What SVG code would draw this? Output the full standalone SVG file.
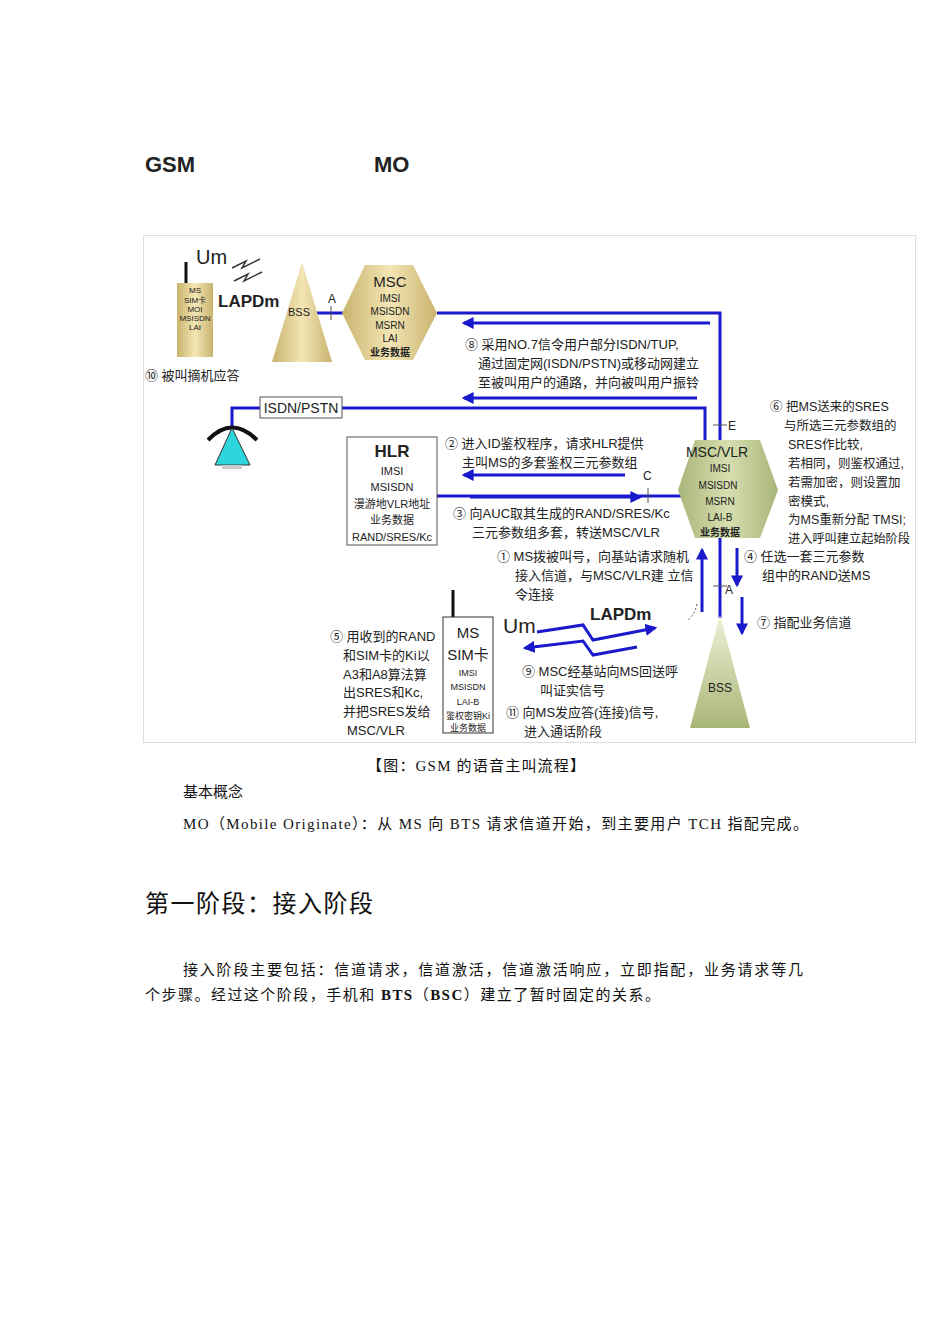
<svg xmlns="http://www.w3.org/2000/svg" width="950" height="1344" viewBox="0 0 950 1344">
<defs>
<style>
.t{font-family:"Liberation Sans","Noto Sans CJK SC",sans-serif;fill:#222}
.s{font-family:"Liberation Serif","Noto Sans CJK SC",serif;fill:#111}
.b{stroke:#1a1acc;stroke-width:3;fill:none}
.l{font-size:12px}
</style>
<marker id="ah" viewBox="0 0 10 10" refX="8" refY="5" markerWidth="4" markerHeight="4" orient="auto"><path d="M0,0L10,5L0,10z" fill="#1a1acc"/></marker>
<linearGradient id="gold" x1="0" y1="0" x2="1" y2="0"><stop offset="0" stop-color="#c9b36e"/><stop offset="0.5" stop-color="#f3e6b4"/><stop offset="1" stop-color="#c9b36e"/></linearGradient>
<linearGradient id="green" x1="0" y1="0" x2="1" y2="0"><stop offset="0" stop-color="#a8b57a"/><stop offset="0.5" stop-color="#d7dfb0"/><stop offset="1" stop-color="#a8b57a"/></linearGradient>
<linearGradient id="cone2" x1="0" y1="0" x2="0" y2="1"><stop offset="0" stop-color="#eef2d6"/><stop offset="1" stop-color="#a8b577"/></linearGradient>
</defs>
<rect width="950" height="1344" fill="#fff"/>
<text class="t" x="145" y="172" font-size="22" font-weight="bold">GSM</text>
<text class="t" x="374" y="172" font-size="22" font-weight="bold">MO</text>
<rect x="143.5" y="235.5" width="772" height="507" fill="#fff" stroke="#ddd"/>

<g id="connectors">
<polyline class="b" points="437,313 720,313 720,440"/>
<line class="b" x1="710" y1="323" x2="464" y2="323" marker-end="url(#ah)"/>
<line class="b" x1="697" y1="398" x2="464" y2="398" marker-end="url(#ah)"/>
<polyline class="b" points="342,408 705,408 705,440"/>
<polyline class="b" points="260,408 232,408 232,428"/>
<line class="b" x1="437" y1="496" x2="682" y2="496"/>
<line class="b" x1="625" y1="475" x2="464" y2="475" marker-end="url(#ah)"/>
<line class="b" x1="470" y1="497" x2="640" y2="497" marker-end="url(#ah)"/>
<line class="b" x1="315" y1="313" x2="345" y2="313"/>
<line class="b" x1="720" y1="538" x2="720" y2="618"/>
<line class="b" x1="702" y1="612" x2="702" y2="550" marker-end="url(#ah)"/>
<line class="b" x1="737" y1="548" x2="737" y2="585" marker-end="url(#ah)"/>
<line class="b" x1="742" y1="597" x2="742" y2="633" marker-end="url(#ah)"/>
<polyline class="b" points="537,632 583,625 593,640 655,628" marker-end="url(#ah)"/>
<polyline class="b" points="637,647 593,655 583,641 525,648" marker-end="url(#ah)"/>
<path d="M697,604 Q695,614 688,620" stroke="#555" stroke-dasharray="2,2" fill="none"/>
<g stroke="#555" stroke-width="1">
<line x1="331" y1="306" x2="331" y2="320"/><line x1="713" y1="425" x2="727" y2="425"/>
<line x1="648" y1="488" x2="648" y2="503"/><line x1="713" y1="586" x2="727" y2="586"/>
</g>
<text class="t l" x="328" y="303">A</text><text class="t l" x="728" y="430">E</text>
<text class="t l" x="643" y="480">C</text><text class="t l" x="725" y="594">A</text>
</g>

<g id="ms-top">
<line x1="186" y1="262" x2="186" y2="285" stroke="#111" stroke-width="3"/>
<rect x="177" y="283" width="36" height="74" fill="url(#gold)"/>
<g class="t" font-size="8" text-anchor="middle"><text x="195" y="293">MS</text><text x="195" y="303">SIM卡</text><text x="195" y="312">MOI</text><text x="195" y="321">MSISDN</text><text x="195" y="330">LAI</text></g>
<text class="t" x="196" y="264" font-size="20">Um</text>
<path d="M232,268 l14,-7 l-4,7 l18,-9 M234,281 l14,-7 l-4,7 l18,-9" stroke="#333" stroke-width="1.5" fill="none"/>
<text class="t" x="218" y="307" font-size="17" font-weight="bold">LAPDm</text>
</g>
<g id="bss-top"><polygon points="302,262 332,362 272,362" fill="url(#gold)"/><text class="t" x="288" y="316" font-size="11">BSS</text></g>
<g id="msc">
<polygon points="342,313 365,265 413,265 437,313 413,360 365,360" fill="url(#gold)"/>
<g class="t" text-anchor="middle"><text x="390" y="287" font-size="15">MSC</text><g font-size="10"><text x="390" y="302">IMSI</text><text x="390" y="315">MSISDN</text><text x="390" y="329">MSRN</text><text x="390" y="342">LAI</text><text x="390" y="356" font-weight="bold">业务数据</text></g></g>
</g>
<text class="t" x="145" y="380" font-size="13">⑩ 被叫摘机应答</text>
<g id="text8" class="t" font-size="13"><text x="465" y="349">⑧ 采用NO.7信令用户部分ISDN/TUP,</text><text x="478" y="368">通过固定网(ISDN/PSTN)或移动网建立</text><text x="478" y="387">至被叫用户的通路，并向被叫用户振铃</text></g>
<g id="isdn"><rect x="260" y="397" width="82" height="21" fill="#fff" stroke="#555"/><text class="t" x="301" y="413" font-size="14" text-anchor="middle">ISDN/PSTN</text></g>
<g id="phone"><path d="M208,440 Q232,415 257,440" stroke="#111" stroke-width="4" fill="none"/><polygon points="232,428 250,465 215,465" fill="#2cd6dc" stroke="#333"/><rect x="222" y="465" width="20" height="4" fill="#ccc"/></g>
<g id="hlr"><rect x="347" y="437" width="90" height="108" fill="#fff" stroke="#555"/>
<g class="t" text-anchor="middle"><text x="392" y="457" font-size="17" font-weight="bold">HLR</text><g font-size="11"><text x="392" y="475">IMSI</text><text x="392" y="491">MSISDN</text><text x="392" y="508">漫游地VLR地址</text><text x="392" y="524">业务数据</text><text x="392" y="541">RAND/SRES/Kc</text></g></g></g>
<g class="t" font-size="13"><text x="445" y="448">② 进入ID鉴权程序，请求HLR提供</text><text x="462" y="467">主叫MS的多套鉴权三元参数组</text>
<text x="453" y="518">③ 向AUC取其生成的RAND/SRES/Kc</text><text x="472" y="537">三元参数组多套，转送MSC/VLR</text>
<text x="497" y="561">① MS拨被叫号，向基站请求随机</text><text x="515" y="580">接入信道，与MSC/VLR建 立信</text><text x="515" y="599">令连接</text></g>
<g id="mscvlr"><polygon points="678,490 695,440 760,440 778,490 760,538 695,538" fill="url(#green)"/>
<g class="t" text-anchor="middle"><text x="717" y="457" font-size="14">MSC/VLR</text><g font-size="10"><text x="720" y="472">IMSI</text><text x="718" y="489">MSISDN</text><text x="720" y="505">MSRN</text><text x="720" y="521">LAI-B</text><text x="720" y="536" font-weight="bold">业务数据</text></g></g></g>
<g class="t" font-size="12.5"><text x="770" y="411">⑥ 把MS送来的SRES</text><text x="784" y="430">与所选三元参数组的</text><text x="788" y="449">SRES作比较,</text><text x="788" y="468">若相同，则鉴权通过,</text><text x="788" y="487">若需加密，则设置加</text><text x="788" y="506">密模式,</text><text x="788" y="524">为MS重新分配 TMSI;</text><text x="788" y="543" textLength="122" lengthAdjust="spacingAndGlyphs">进入呼叫建立起始阶段</text></g>
<g class="t" font-size="13"><text x="744" y="561">④ 任选一套三元参数</text><text x="762" y="580">组中的RAND送MS</text><text x="757" y="627">⑦ 指配业务信道</text></g>
<g id="bss-bottom"><polygon points="720,615 750,728 690,728" fill="url(#cone2)"/><text class="t" x="720" y="692" font-size="12" text-anchor="middle">BSS</text></g>
<g id="ms-bottom"><line x1="453" y1="590" x2="453" y2="617" stroke="#111" stroke-width="3"/><rect x="443" y="617" width="50" height="116" fill="#fff" stroke="#333"/>
<g class="t" text-anchor="middle"><text x="468" y="638" font-size="15">MS</text><text x="468" y="660" font-size="15">SIM卡</text><g font-size="9"><text x="468" y="676">IMSI</text><text x="468" y="690">MSISDN</text><text x="468" y="705">LAI-B</text><text x="468" y="719">鉴权密钥Ki</text><text x="468" y="731">业务数据</text></g></g></g>
<text class="t" x="503" y="633" font-size="21">Um</text>
<text class="t" x="590" y="620" font-size="17" font-weight="bold">LAPDm</text>
<g class="t" font-size="13"><text x="330" y="641">⑤ 用收到的RAND</text><text x="343" y="660">和SIM卡的Ki以</text><text x="343" y="679">A3和A8算法算</text><text x="343" y="697">出SRES和Kc,</text><text x="343" y="716">并把SRES发给</text><text x="347" y="735">MSC/VLR</text>
<text x="522" y="676">⑨ MSC经基站向MS回送呼</text><text x="540" y="695">叫证实信号</text><text x="506" y="717">⑪ 向MS发应答(连接)信号,</text><text x="524" y="736">进入通话阶段</text></g>
<text class="s" x="367" y="771" font-size="15" textLength="218">【图：GSM 的语音主叫流程】</text>
<text class="s" x="183" y="797" font-size="15">基本概念</text>
<text class="s" x="183" y="829" font-size="15" textLength="625">MO（Mobile Originate）：从 MS 向 BTS 请求信道开始，到主要用户 TCH 指配完成。</text>
<text class="s" x="145" y="912" font-size="24" textLength="228">第一阶段：接入阶段</text>
<text class="s" x="183" y="975" font-size="15" textLength="620">接入阶段主要包括：信道请求，信道激活，信道激活响应，立即指配，业务请求等几</text>
<text class="s" x="145" y="1000" font-size="15" textLength="515">个步骤。经过这个阶段，手机和 <tspan font-weight="bold">BTS</tspan>（<tspan font-weight="bold">BSC</tspan>）建立了暂时固定的关系。</text>
</svg>
